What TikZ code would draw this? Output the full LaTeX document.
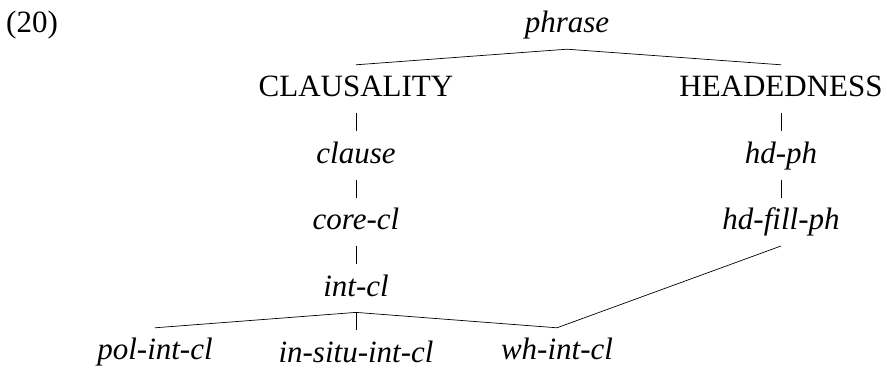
\documentclass[tikz,border=0pt]{standalone}
\usepackage{fontspec}
\setmainfont{Liberation Serif}
\usetikzlibrary{positioning}
\tikzset{
  cat/.style={inner sep=0pt,text height=32pt,text depth=16pt,
    font=\fontsize{31}{37}\selectfont},
  type/.style={cat,font=\fontsize{31}{37}\selectfont\itshape},
  branch/.style={line width=0.7pt,draw=black}
}

\begin{document}
\begin{tikzpicture}[x=1pt,y=1pt,node distance=18pt]
  \useasboundingbox (0,0) rectangle (887,-371);
  \node[cat,anchor=base west] (num) at (6,-33) {(20)};
  \node[type,anchor=base] (phrase) at (567,-33) {phrase};
  \node[cat,anchor=base] (claus) at (356,-97) {CLAUSALITY};
  \node[cat,anchor=base] (head) at (781,-97) {HEADEDNESS};
  \node[type,below=of claus] (clause) {clause};
  \node[type,below=of clause] (corecl) {core-cl};
  \node[type,below=of corecl] (intcl) {int-cl};
  \node[type,below=of head] (hdph) {hd-ph};
  \node[type,below=of hdph] (hdfill) {hd-fill-ph};
  \node[type,below=of intcl] (insitu) {in-situ-int-cl};
  \node[type,anchor=base] (polint) at (155,-360) {pol-int-cl};
  \node[type,anchor=base] (whint) at (557,-360) {wh-int-cl};
  \draw[branch] (phrase.south) -- (claus.north);
  \draw[branch] (phrase.south) -- (head.north);
  \draw[branch] (claus) -- (clause);
  \draw[branch] (clause) -- (corecl);
  \draw[branch] (corecl) -- (intcl);
  \draw[branch] (head) -- (hdph);
  \draw[branch] (hdph) -- (hdfill);
  \draw[branch] (intcl.south) -- (polint.north);
  \draw[branch] (intcl) -- (insitu);
  \draw[branch] (intcl.south) -- (whint.north);
  \draw[branch] (hdfill.south) -- (whint.north);
\end{tikzpicture}
\end{document}
